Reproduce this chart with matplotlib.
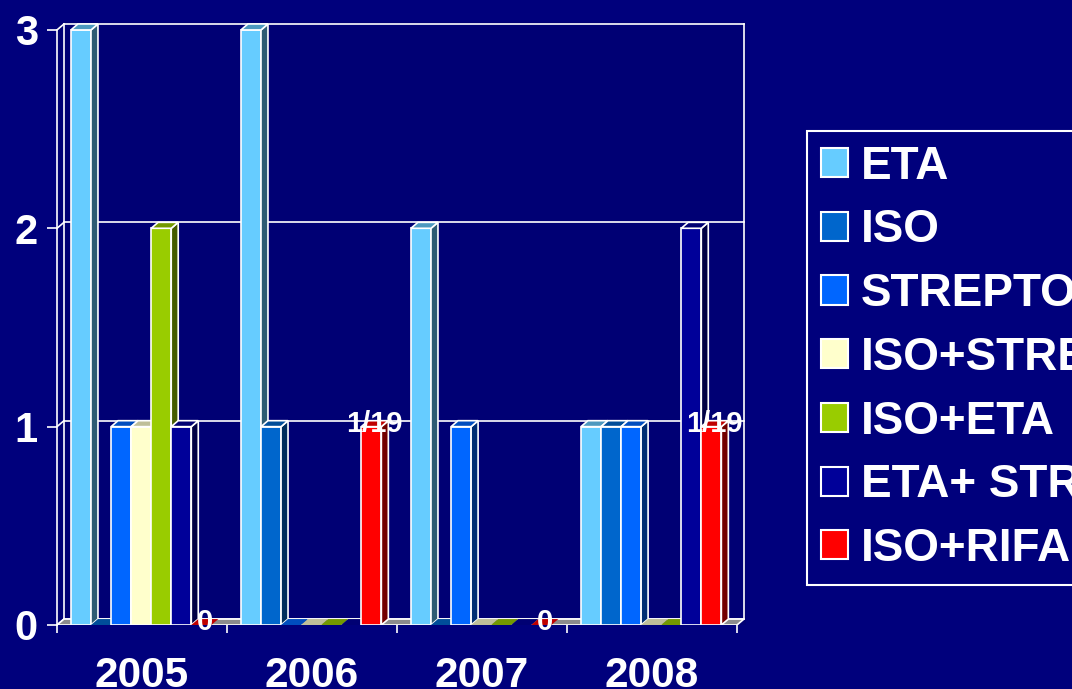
import matplotlib.pyplot as plt
import matplotlib.colors as mcolors
from matplotlib.patches import Polygon, Rectangle, Patch

plt.rcParams['font.family'] = ['Liberation Sans', 'DejaVu Sans']
plt.rcParams['font.weight'] = 'bold'

# data
years = ['2005', '2006', '2007', '2008']
series = ['ETA', 'ISO', 'STREPTO', 'ISO+STREPTO', 'ISO+ETA', 'ETA+ STREPTO', 'ISO+RIFA']
eta = [3, 3, 2, 1]
iso = [0, 1, 0, 1]
strepto = [1, 0, 1, 1]
iso_strepto = [1, 0, 0, 0]
iso_eta = [2, 0, 0, 0]
eta_strepto = [1, 0, 0, 2]
iso_rifa = [0, 1, 0, 1]
rifa_labels = ['0', '1/19', '0', '1/19']
colors = ['#66CCFF', '#0066CC', '#0066FF', '#FFFFCC', '#99CC00', '#000099', '#FF0000']

values = [eta, iso, strepto, iso_strepto, iso_eta, eta_strepto, iso_rifa]

bg = '#00007C'
fig = plt.figure(figsize=(10.72, 6.89), dpi=100, facecolor=bg)
ax = fig.add_axes([57/1072, 64/689, 688.5/1072, 603/689])
ax.set_facecolor('#000074')
ax.set_xlim(0, 4.05)
ax.set_ylim(0, 3.04)
for s in ax.spines.values():
    s.set_visible(False)

w = 0.118      # bar width (one group = 1)
dx, dy = 0.041, 0.03   # fake 3d depth
start = 0.082


def shade(c, f):
    r, g, b = mcolors.to_rgb(c)
    return (r * f, g * f, b * f)


# walls and grid
n = len(years)
line_kw = dict(color='white', lw=1.2, zorder=1, clip_on=False)
for v in range(4):
    ax.plot([dx, n + dx], [v + dy, v + dy], **line_kw)
    ax.plot([0, dx], [v, v + dy], **line_kw)
ax.plot([0, 0], [0, 3], **line_kw)
ax.plot([dx, dx], [dy, 3 + dy], **line_kw)
ax.plot([n + dx, n + dx], [dy, 3 + dy], **line_kw)

# floor
ax.add_patch(Polygon([(0, 0), (dx, dy), (n + dx, dy), (n, 0)], closed=True,
                     facecolor='#8C8C8C', edgecolor='white', lw=1.2, zorder=2))

# bars
z = 3
for g in range(n):
    for i, vals in enumerate(values):
        v = vals[g]
        c = colors[i]
        x0 = g + start + i * w
        if v > 0:
            ax.add_patch(Rectangle((x0, 0), w, v, facecolor=c, edgecolor='white',
                                   lw=1.2, zorder=z))
            ax.add_patch(Polygon([(x0 + w, 0), (x0 + w + dx, dy), (x0 + w + dx, v + dy), (x0 + w, v)],
                                 closed=True, facecolor=shade(c, 0.45), edgecolor='white',
                                 lw=1.2, zorder=z))
            ax.add_patch(Polygon([(x0, v), (x0 + dx, v + dy), (x0 + w + dx, v + dy), (x0 + w, v)],
                                 closed=True, facecolor=shade(c, 0.75), edgecolor='white',
                                 lw=1.2, zorder=z))
        else:
            ax.add_patch(Polygon([(x0, 0), (x0 + dx, dy), (x0 + w + dx, dy), (x0 + w, 0)],
                                 closed=True, facecolor=shade(c, 0.75), edgecolor='none',
                                 zorder=z))
        z += 1

# labels on ISO+RIFA
for g in range(n):
    x0 = g + start + 6 * w
    ax.text(x0 + (w + dx) / 2, iso_rifa[g] + dy / 2, rifa_labels[g], color='white',
            fontsize=21, fontweight='bold', ha='center', va='center', zorder=100)

ax.set_yticks([0, 1, 2, 3])
ax.tick_params(axis='y', colors='white', length=7.2, width=1.2, pad=6.5, labelsize=30)
ax.set_xticks(range(n + 1))
ax.set_xticklabels([''] * (n + 1))
ax.set_xticks([g + 0.5 for g in range(n)], minor=True)
ax.set_xticklabels(years, minor=True)
ax.tick_params(axis='x', which='major', colors='white', length=6, width=1.2)
ax.tick_params(axis='x', which='minor', colors='white', length=0, pad=22, labelsize=30.5)

handles = [Patch(facecolor=c, edgecolor='white', linewidth=1.5) for c in colors]
leg = fig.legend(handles, series, loc='upper left', bbox_to_anchor=(807/1072, 1 - 131/689),
                 borderaxespad=0, fancybox=False, facecolor=bg, edgecolor='white',
                 framealpha=1, fontsize=33, handlelength=0.6, handleheight=0.6,
                 handletextpad=0.27, labelspacing=0.43, borderpad=0.3, labelcolor='white')
leg.get_frame().set_linewidth(1.5)

fig.savefig('out.png', dpi=100, facecolor=bg)
